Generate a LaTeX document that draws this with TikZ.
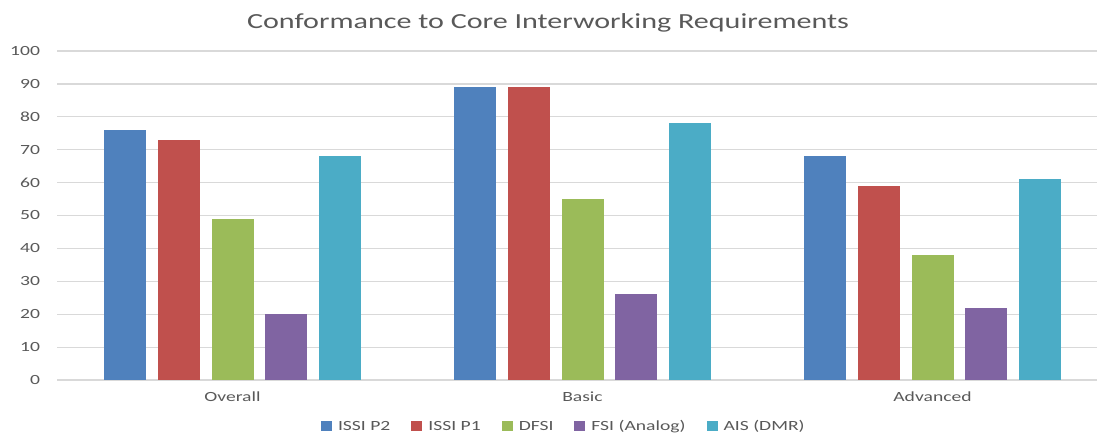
\documentclass[tikz,border=0pt]{standalone}
\usepackage{fontspec}
\setmainfont{Carlito}[FakeStretch=1.4]
\usetikzlibrary{positioning}

\definecolor{issiptwo}{HTML}{4F81BD}
\definecolor{issipone}{HTML}{C0504D}
\definecolor{dfsi}{HTML}{9BBB59}
\definecolor{fsi}{HTML}{8064A2}
\definecolor{ais}{HTML}{4BACC6}
\definecolor{gridgray}{HTML}{D9D9D9}
\definecolor{labelgray}{HTML}{595959}

\begin{document}
\begin{tikzpicture}[
  x=1pt, y=-1pt,
  every node/.style={
    text=labelgray, inner sep=0pt, outer sep=0pt,
    font=\fontsize{14}{16}\selectfont,
  },
  key/.style={fill=#1, minimum width=11pt, minimum height=10pt},
  keytext/.style={text height=9pt, text depth=0pt},
]

  \fill [white] (0,0) rectangle (1097,434);
  \useasboundingbox (0,0) rectangle (1097,434);

  \def\ypos#1{380-3.29*#1}

  \foreach \v in {0,10,...,100} {
    \draw [gridgray, line width=1.2pt] (57,{\ypos{\v}}) -- (1097,{\ypos{\v}});
    \node [anchor=east] (tick\v) at (40,{\ypos{\v}}) {\v};
  }

  \foreach \g/\name/\a/\b/\c/\d/\e in {
      0/Overall/76/73/49/20/68,
      1/Basic/89/89/55/26/78,
      2/Advanced/68/59/38/22/61} {
    \foreach \val/\col [count=\k] in {\a/issiptwo,\b/issipone,\c/dfsi,\d/fsi,\e/ais}
      \fill [\col] ({232.5+350*\g+(\k-3)*53.6-21},{\ypos{\val}})
        rectangle ({232.5+350*\g+(\k-3)*53.6+21},{\ypos{0}});
    \node [anchor=base] (cat\g) at ({232.5+350*\g},401) {\name};
  }

  \node [anchor=base, font=\fontsize{21.5}{26}\selectfont] (title) at (548,28.5)
    {Conformance to Core Interworking Requirements};

  \node [key=issiptwo] (k1) at (326.5,426) {};
  \node [keytext, right=6pt of k1] (t1) {ISSI P2};
  \node [key=issipone, right=21pt of t1] (k2) {};
  \node [keytext, right=6pt of k2] (t2) {ISSI P1};
  \node [key=dfsi, right=21pt of t2] (k3) {};
  \node [keytext, right=6pt of k3] (t3) {DFSI};
  \node [key=fsi, right=21pt of t3] (k4) {};
  \node [keytext, right=6pt of k4] (t4) {FSI (Analog)};
  \node [key=ais, right=21pt of t4] (k5) {};
  \node [keytext, right=6pt of k5] (t5) {AIS (DMR)};

\end{tikzpicture}
\end{document}
